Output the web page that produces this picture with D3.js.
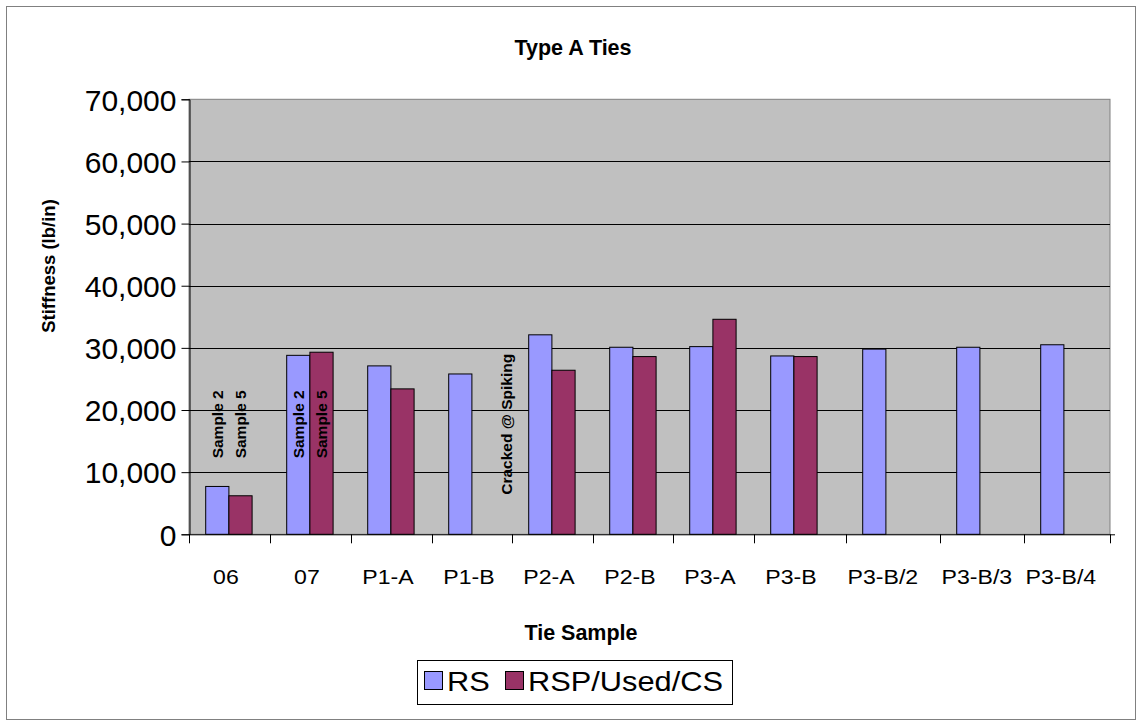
<!DOCTYPE html>
<html><head><meta charset="utf-8">
<script src="https://cdn.jsdelivr.net/npm/d3@7"></script>
<style>
html,body{margin:0;padding:0;background:#fff;}
text{font-family:"Liberation Sans",Arial,sans-serif;}
</style></head>
<body><svg id="chart" width="1142" height="726"></svg>
<script>
// ---- data ----
const categories = ["06","07","P1-A","P1-B","P2-A","P2-B","P3-A","P3-B","P3-B/2","P3-B/3","P3-B/4"];
const seriesNames = ["RS","RSP/Used/CS"];
const rsValues  = [7700,28800,27100,25800,32100,30100,30200,28700,29800,30100,30500];
const rspValues = [6200,29300,23400,null,26400,28600,34600,28600,null,null,null];
const yTicks = [0,10000,20000,30000,40000,50000,60000,70000];
const annoCats   = ["06","06","07","07","P1-B"];
const annoSeries = [0,1,0,1,2];
const annoTexts  = ["Sample 2","Sample 5","Sample 2","Sample 5","Cracked @ Spiking"];
const titleText = "Type A Ties", xTitle = "Tie Sample", yTitle = "Stiffness (lb/in)";

// ---- layout ----
const colors = ["#9999FF","#993366"];
const plot = {left:189, right:1110, top:99.3, bottom:534.3};
// category boundaries (relative widths, as drawn in the original)
const catWeights = [81,81,81,80,81,80,81,92,94,84,86];
const svg = d3.select("#chart");

const edges = [0]; catWeights.forEach(w=>edges.push(edges[edges.length-1]+w));
const xEdge = d3.scaleLinear().domain([0, edges[edges.length-1]]).range([plot.left, plot.right]);
const catIndex = d3.scaleOrdinal().domain(categories).range(d3.range(categories.length));
const xStart = c => xEdge(edges[catIndex(c)]);
const y = d3.scaleLinear().domain([0,70000]).range([plot.bottom, plot.top]);
const barOff = 16.7, barW = 23.2;

// outer border
svg.append("rect").attr("x",6.5).attr("y",6.5).attr("width",1129).attr("height",713)
  .attr("fill","#fff").attr("stroke","#808080").attr("stroke-width",1);

// plot area
svg.append("rect").attr("x",plot.left).attr("y",plot.top).attr("width",plot.right-plot.left)
  .attr("height",plot.bottom-plot.top).attr("fill","#C0C0C0").attr("stroke","#808080");

// gridlines
svg.append("g").selectAll("line").data(yTicks.filter(t=>t>0&&t<70000)).join("line")
  .attr("x1",plot.left).attr("x2",plot.right)
  .attr("y1",d=>Math.round(y(d))+0.5).attr("y2",d=>Math.round(y(d))+0.5)
  .attr("stroke","#000").attr("stroke-width",1);

// bars
const allVals = [rsValues, rspValues];
allVals.forEach((vals,s)=>{
  svg.append("g").selectAll("rect").data(categories.map((c,i)=>({c,v:vals[i]})).filter(d=>d.v!=null))
    .join("rect")
    .attr("x",d=>xStart(d.c)+barOff+s*barW)
    .attr("y",d=>y(d.v))
    .attr("width",barW)
    .attr("height",d=>y(0)-y(d.v))
    .attr("fill",colors[s]).attr("stroke","#000").attr("stroke-width",1);
});

// y axis
const yAxis = d3.axisLeft(y).tickValues(yTicks).tickSize(8).tickPadding(5)
  .tickFormat(d3.format(","));
const gy = svg.append("g").attr("transform",`translate(${plot.left+0.5},0)`).call(yAxis);
gy.select(".domain").attr("stroke","#000");
gy.selectAll(".tick line").attr("stroke","#000");
gy.selectAll(".tick text").attr("font-size",30).attr("fill","#000")
  .attr("font-family","Liberation Sans, Arial, sans-serif").attr("dy","0.36em");

// x axis baseline + ticks
svg.append("line").attr("x1",plot.left).attr("x2",plot.right+5)
  .attr("y1",plot.bottom+0.5).attr("y2",plot.bottom+0.5).attr("stroke","#000");
svg.append("g").selectAll("line").data(edges).join("line")
  .attr("x1",d=>Math.round(xEdge(d))+0.5).attr("x2",d=>Math.round(xEdge(d))+0.5)
  .attr("y1",plot.bottom).attr("y2",plot.bottom+9).attr("stroke","#000");
svg.append("g").selectAll("text").data(categories).join("text")
  .attr("transform",c=>`translate(${xStart(c)+barOff+barW-3},584) scale(1.1,1)`)
  .attr("text-anchor","middle").attr("font-size",21).attr("fill","#000").text(c=>c);

// annotations
svg.append("g").selectAll("text").data(annoTexts.map((t,i)=>({t,c:annoCats[i],s:annoSeries[i]})))
  .join("text")
  .attr("transform",d=>`translate(${xStart(d.c)+barOff+d.s*barW+barW/2+5.5},${y(17700)}) rotate(-90)`)
  .attr("text-anchor","middle").attr("font-size",15.5).attr("font-weight","bold").attr("fill","#000")
  .text(d=>d.t);

// titles
svg.append("text").attr("x",573).attr("y",55).attr("text-anchor","middle")
  .attr("font-size",21.5).attr("font-weight","bold").text(titleText);
svg.append("text").attr("x",581).attr("y",640).attr("text-anchor","middle")
  .attr("font-size",21.5).attr("font-weight","bold").text(xTitle);
svg.append("text").attr("transform",`translate(55,266) rotate(-90)`).attr("text-anchor","middle")
  .attr("font-size",18.5).attr("font-weight","bold").text(yTitle);

// legend
const lg = svg.append("g");
lg.append("rect").attr("x",417.5).attr("y",660.5).attr("width",315).attr("height",44)
  .attr("fill","#fff").attr("stroke","#000");
const legX = [424, 505];
seriesNames.forEach((n,i)=>{
  lg.append("rect").attr("x",legX[i]+0.5).attr("y",671.5).attr("width",18).attr("height",18)
    .attr("fill",colors[i]).attr("stroke","#000");
  lg.append("text").attr("transform",`translate(${legX[i]+23},691) scale(1.12,1)`)
    .attr("font-size",27.5).attr("fill","#000").text(n);
});
</script></body></html>
